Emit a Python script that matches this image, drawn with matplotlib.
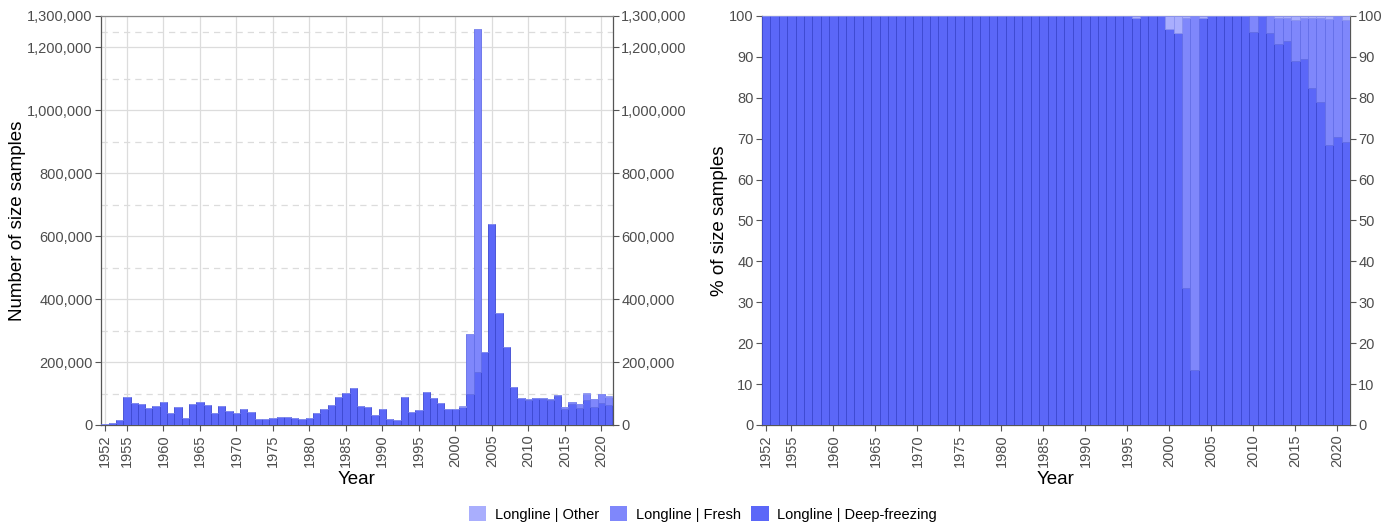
import matplotlib
matplotlib.use("Agg")
import matplotlib.pyplot as plt
import numpy as np
from matplotlib.ticker import FuncFormatter, FixedLocator
from matplotlib.patches import Patch

plt.rcParams['font.family'] = ['Liberation Sans', 'DejaVu Sans']

years = list(range(1952, 2022))
deep_freezing = [3000, 7400, 17000, 88000, 70000, 68000, 55000, 60000, 74000, 39000,
                 57000, 21000, 68000, 74000, 62500, 39000, 61000, 43500, 37000, 50000,
                 40000, 20000, 19000, 22000, 25500, 25500, 21000, 19000, 21000, 37000,
                 50000, 62500, 88000, 102000, 118600, 60000, 57000, 33000, 50000, 18000,
                 16000, 88000, 40000, 49000, 103500, 85000, 71000, 50000, 50400, 56500,
                 97000, 170000, 230600, 639000, 356000, 247000, 122000, 86000, 78700, 87000,
                 83300, 78300, 90600, 51900, 66300, 55000, 79500, 57300, 69400, 63100]
fresh = [0] * 50 + [191500, 1088000, 0, 0, 0, 0, 0, 0, 3300, 0,
                    3700, 5300, 5300, 5800, 7300, 11400, 20600, 25800, 29100, 27000]
other = [0] * 44 + [500, 0, 0, 0, 1600, 2500,
                    1500, 0, 1400, 0, 0, 0, 0, 0, 0, 0,
                    0, 400, 500, 600, 400, 300, 500, 600, 0, 1000]

series_names = ["Longline | Other", "Longline | Fresh", "Longline | Deep-freezing"]
fill_colors = {"Longline | Other": "#a9aefd", "Longline | Fresh": "#7f87fb", "Longline | Deep-freezing": "#5b67f8"}
edge_colors = {"Longline | Other": "#8a92f0", "Longline | Fresh": "#636ee8", "Longline | Deep-freezing": "#3c48d0"}

x_ticks = [1952] + list(range(1955, 2021, 5))
left_ticks = [0, 200000, 400000, 600000, 800000, 1000000, 1200000, 1300000]
left_minor = [100000, 300000, 500000, 700000, 900000, 1100000, 1250000]
right_ticks = list(range(0, 101, 10))

yrs = np.array(years)
d = np.array(deep_freezing, float)
f = np.array(fresh, float)
o = np.array(other, float)
tot = d + f + o
dp, fp, op = 100 * d / tot, 100 * f / tot, 100 * o / tot

fig = plt.figure(figsize=(13.97, 5.27), dpi=100)
axL = fig.add_axes([101 / 1397, 102 / 527, 512 / 1397, 409 / 527])
axR = fig.add_axes([762 / 1397, 102 / 527, 588 / 1397, 409 / 527])

tick_col = "#4d4d4d"
spine_col = "#555555"
tick_fs = 10.5
title_fs = 13.5

def stack(ax, a, b, c):
    ax.bar(yrs, a, width=1.0, color=fill_colors[series_names[2]],
           edgecolor=edge_colors[series_names[2]], linewidth=0.6, zorder=3)
    ax.bar(yrs, b, bottom=a, width=1.0, color=fill_colors[series_names[1]],
           edgecolor=edge_colors[series_names[1]], linewidth=0.6, zorder=3)
    ax.bar(yrs, c, bottom=a + b, width=1.0, color=fill_colors[series_names[0]],
           edgecolor=edge_colors[series_names[0]], linewidth=0.6, zorder=3)

stack(axL, d, f, o)
stack(axR, dp, fp, op)

axL.set_xlim(1951.45, 2021.6)
axL.set_ylim(0, 1300000)
axL.yaxis.set_major_locator(FixedLocator(left_ticks))
axL.yaxis.set_minor_locator(FixedLocator(left_minor))
axL.yaxis.set_major_formatter(FuncFormatter(lambda v, p: f"{int(v):,}"))
axL.grid(True, which="major", axis="both", color="#dcdcdc", linewidth=0.9, zorder=0)
axL.grid(True, which="minor", axis="y", color="#dcdcdc", linewidth=0.9, linestyle=(0, (5, 4)), zorder=0)
axL.tick_params(axis="y", which="minor", length=0)
axL.set_ylabel("Number of size samples", fontsize=title_fs)
axL.yaxis.set_label_coords(-0.146, 0.5)

axR.set_xlim(1951.5, 2021.5)
axR.set_ylim(0, 100)
axR.yaxis.set_major_locator(FixedLocator(right_ticks))
axR.set_ylabel("% of size samples", fontsize=title_fs)
axR.yaxis.set_label_coords(-0.058, 0.5)

for ax in (axL, axR):
    ax.set_axisbelow(True)
    ax.tick_params(axis="y", which="major", left=True, right=True, labelleft=True, labelright=True,
                   labelsize=tick_fs, labelcolor=tick_col, color=spine_col, length=4, pad=2)
    ax.xaxis.set_major_locator(FixedLocator(x_ticks))
    ax.set_xticklabels([str(t) for t in x_ticks], rotation=90)
    ax.tick_params(axis="x", labelsize=tick_fs, labelcolor=tick_col, color=spine_col, length=4, pad=2.5)
    ax.set_xlabel("Year", fontsize=title_fs)
    ax.xaxis.set_label_coords(0.5, -0.1125)
    for s in ax.spines.values():
        s.set_color(spine_col)
        s.set_linewidth(0.9)
    ax.spines["top"].set_color("#888888")

handles = [Patch(facecolor=fill_colors[n], edgecolor="none", label=n) for n in series_names]
fig.legend(handles=handles, loc="center", bbox_to_anchor=(703 / 1397, 1 - 514 / 527), ncol=3,
           frameon=False, fontsize=10.5, handlelength=1.2, handleheight=1.2, columnspacing=0.7,
           handletextpad=0.6)

fig.savefig("out.png", dpi=100)
